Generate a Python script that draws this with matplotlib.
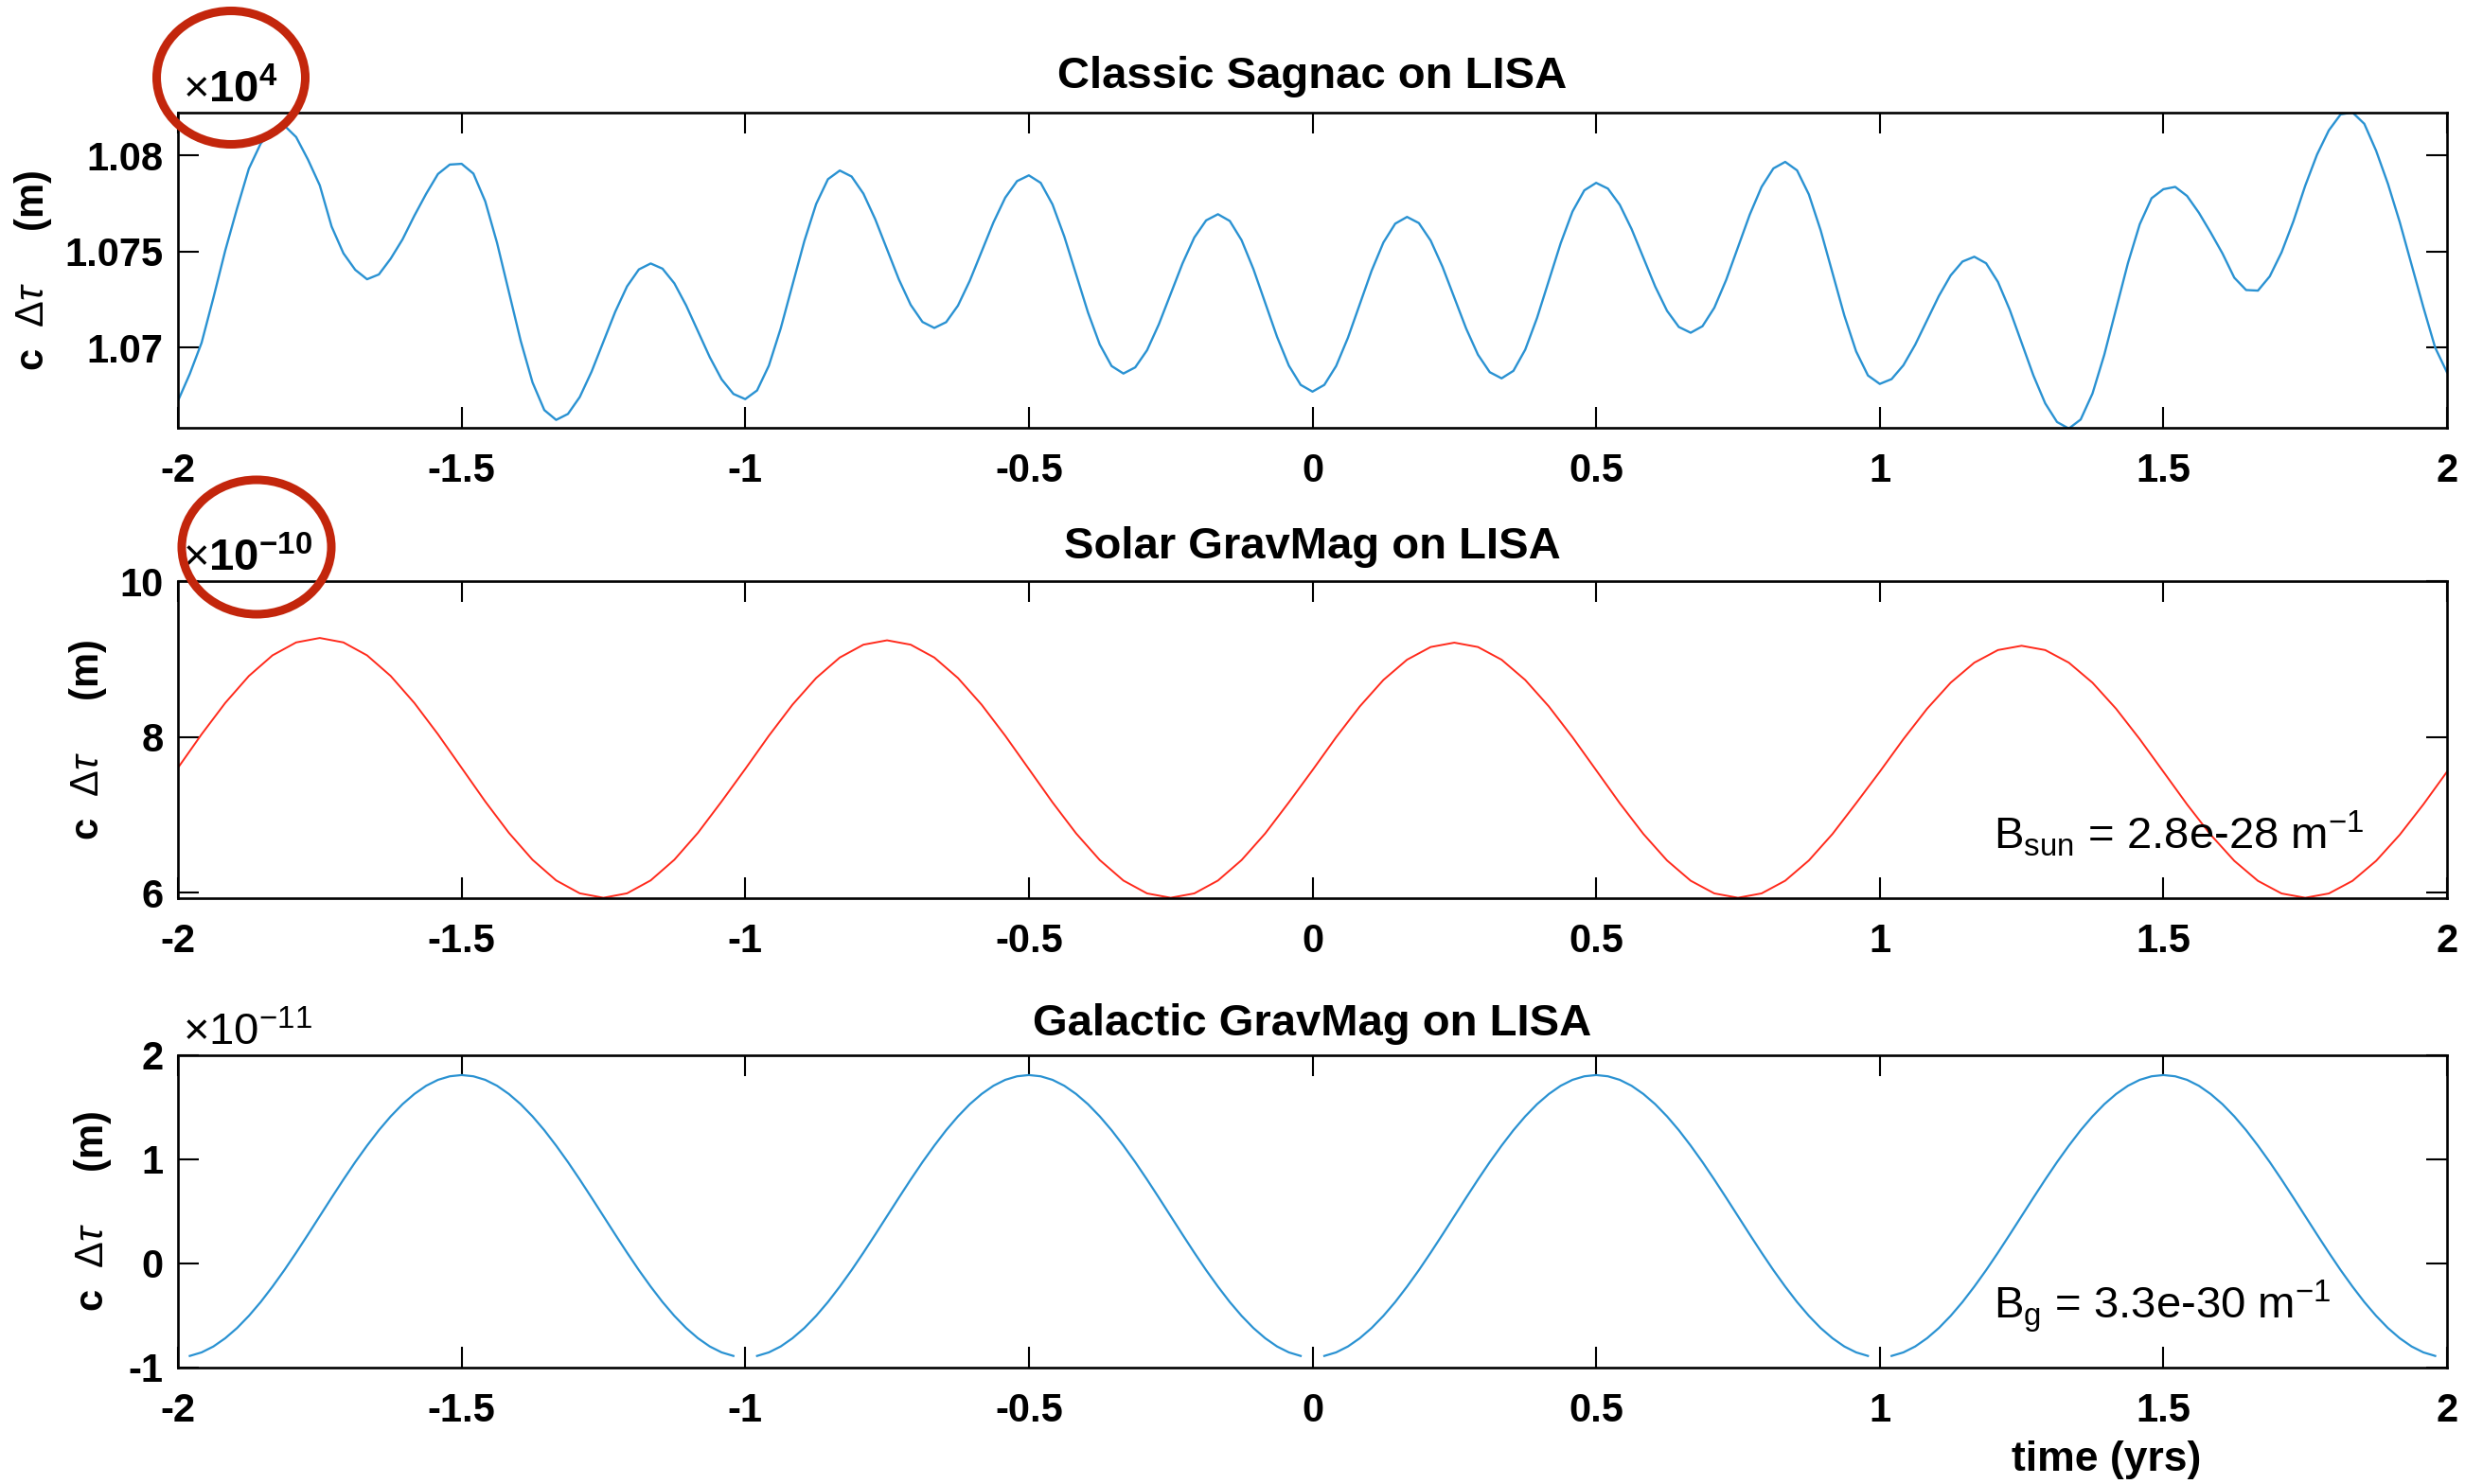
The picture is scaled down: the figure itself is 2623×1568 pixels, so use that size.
import numpy as np
import matplotlib
matplotlib.use("Agg")
import matplotlib.pyplot as plt
from matplotlib.patches import Ellipse

plt.rcParams['font.family'] = ['Liberation Sans', 'DejaVu Sans']
plt.rcParams['mathtext.fontset'] = 'custom'
plt.rcParams['mathtext.rm'] = 'Liberation Sans'
plt.rcParams['mathtext.it'] = 'Liberation Sans:italic'
plt.rcParams['mathtext.bf'] = 'Liberation Sans:bold'

nan = np.nan

# time axis (years), two sampling rates
t_fine = np.linspace(-2, 2, 193)    # 1/48 yr
t_coarse = np.linspace(-2, 2, 97)   # 1/24 yr

# classic Sagnac delay, units of 1e4 m
sagnac = [
    1.06724, 1.06864, 1.07026, 1.07260, 1.07505, 1.07724, 1.07931, 1.08061,
    1.08134, 1.08155, 1.08095, 1.07978, 1.07844, 1.07630, 1.07491, 1.07405,
    1.07356, 1.07381, 1.07463, 1.07563, 1.07686, 1.07800, 1.07903, 1.07952,
    1.07956, 1.07905, 1.07761, 1.07545, 1.07290, 1.07036, 1.06820, 1.06676,
    1.06625, 1.06656, 1.06744, 1.06876, 1.07032, 1.07187, 1.07319, 1.07407,
    1.07438, 1.07411, 1.07335, 1.07220, 1.07086, 1.06951, 1.06836, 1.06760,
    1.06733, 1.06778, 1.06907, 1.07100, 1.07327, 1.07554, 1.07747, 1.07876,
    1.07921, 1.07890, 1.07801, 1.07668, 1.07512, 1.07355, 1.07223, 1.07134,
    1.07103, 1.07133, 1.07219, 1.07348, 1.07500, 1.07651, 1.07780, 1.07866,
    1.07896, 1.07857, 1.07745, 1.07578, 1.07381, 1.07184, 1.07017, 1.06905,
    1.06866, 1.06898, 1.06987, 1.07122, 1.07280, 1.07438, 1.07573, 1.07662,
    1.07694, 1.07659, 1.07559, 1.07409, 1.07233, 1.07057, 1.06907, 1.06807,
    1.06772, 1.06807, 1.06905, 1.07052, 1.07226, 1.07400, 1.07547, 1.07645,
    1.07680, 1.07648, 1.07557, 1.07421, 1.07261, 1.07100, 1.06964, 1.06873,
    1.06841, 1.06880, 1.06990, 1.07155, 1.07349, 1.07543, 1.07708, 1.07818,
    1.07857, 1.07827, 1.07743, 1.07617, 1.07468, 1.07318, 1.07192, 1.07108,
    1.07078, 1.07112, 1.07208, 1.07352, 1.07522, 1.07692, 1.07836, 1.07932,
    1.07966, 1.07922, 1.07797, 1.07610, 1.07389, 1.07168, 1.06981, 1.06856,
    1.06812, 1.06837, 1.06909, 1.07016, 1.07143, 1.07269, 1.07376, 1.07448,
    1.07473, 1.07439, 1.07342, 1.07197, 1.07027, 1.06856, 1.06711, 1.06614,
    1.06580, 1.06627, 1.06762, 1.06964, 1.07202, 1.07440, 1.07642, 1.07777,
    1.07824, 1.07836, 1.07789, 1.07702, 1.07599, 1.07490, 1.07364, 1.07300,
    1.07297, 1.07371, 1.07496, 1.07657, 1.07842, 1.08004, 1.08130, 1.08213,
    1.08223, 1.08164, 1.08024, 1.07852, 1.07653, 1.07432, 1.07210, 1.07000,
    1.06872,
]

# solar gravitomagnetic delay, units of 1e-10 m
solar = [
    7.603, 8.034, 8.436, 8.782, 9.047, 9.213, 9.270, 9.213, 9.047, 8.782, 8.436, 8.034,
    7.603, 7.171, 6.769, 6.423, 6.158, 5.992, 5.935, 5.992, 6.158, 6.423, 6.769, 7.171,
    7.588, 8.015, 8.414, 8.756, 9.019, 9.184, 9.240, 9.184, 9.019, 8.756, 8.414, 8.015,
    7.588, 7.160, 6.761, 6.419, 6.156, 5.991, 5.935, 5.991, 6.156, 6.419, 6.761, 7.160,
    7.573, 7.996, 8.391, 8.731, 8.991, 9.154, 9.210, 9.154, 8.991, 8.731, 8.391, 7.996,
    7.573, 7.149, 6.754, 6.414, 6.154, 5.991, 5.935, 5.991, 6.154, 6.414, 6.754, 7.149,
    7.553, 7.971, 8.361, 8.696, 8.953, 9.115, 9.170, 9.115, 8.953, 8.696, 8.361, 7.971,
    7.553, 7.134, 6.744, 6.409, 6.152, 5.990, 5.935, 5.990, 6.152, 6.409, 6.744, 7.134,
    7.553,
]

# galactic gravitomagnetic delay, units of 1e-11 m (breaks at whole years)
galactic = [
    nan, -0.888, -0.854, -0.797, -0.718, -0.620, -0.503, -0.370, -0.222, -0.064, 0.104, 0.278,
    0.455, 0.632, 0.806, 0.974, 1.132, 1.280, 1.413, 1.530, 1.628, 1.707, 1.764, 1.798,
    1.810, 1.798, 1.764, 1.707, 1.628, 1.530, 1.413, 1.280, 1.132, 0.974, 0.806, 0.632,
    0.455, 0.278, 0.104, -0.064, -0.222, -0.370, -0.503, -0.620, -0.718, -0.797, -0.854, -0.888,
    nan, -0.888, -0.854, -0.797, -0.718, -0.620, -0.503, -0.370, -0.222, -0.064, 0.104, 0.278,
    0.455, 0.632, 0.806, 0.974, 1.132, 1.280, 1.413, 1.530, 1.628, 1.707, 1.764, 1.798,
    1.810, 1.798, 1.764, 1.707, 1.628, 1.530, 1.413, 1.280, 1.132, 0.974, 0.806, 0.632,
    0.455, 0.278, 0.104, -0.064, -0.222, -0.370, -0.503, -0.620, -0.718, -0.797, -0.854, -0.888,
    nan, -0.888, -0.854, -0.797, -0.718, -0.620, -0.503, -0.370, -0.222, -0.064, 0.104, 0.278,
    0.455, 0.632, 0.806, 0.974, 1.132, 1.280, 1.413, 1.530, 1.628, 1.707, 1.764, 1.798,
    1.810, 1.798, 1.764, 1.707, 1.628, 1.530, 1.413, 1.280, 1.132, 0.974, 0.806, 0.632,
    0.455, 0.278, 0.104, -0.064, -0.222, -0.370, -0.503, -0.620, -0.718, -0.797, -0.854, -0.888,
    nan, -0.888, -0.854, -0.797, -0.718, -0.620, -0.503, -0.370, -0.222, -0.064, 0.104, 0.278,
    0.455, 0.632, 0.806, 0.974, 1.132, 1.280, 1.413, 1.530, 1.628, 1.707, 1.764, 1.798,
    1.810, 1.798, 1.764, 1.707, 1.628, 1.530, 1.413, 1.280, 1.132, 0.974, 0.806, 0.632,
    0.455, 0.278, 0.104, -0.064, -0.222, -0.370, -0.503, -0.620, -0.718, -0.797, -0.854, -0.888,
    nan,
]

x_ticks = [-2, -1.5, -1, -0.5, 0, 0.5, 1, 1.5, 2]
x_ticklabels = ['-2', '-1.5', '-1', '-0.5', '0', '0.5', '1', '1.5', '2']

titles = ['Classic Sagnac on LISA', 'Solar GravMag on LISA', 'Galactic GravMag on LISA']
exponents = [r'$\times\mathbf{10^{4}}$', r'$\times\mathbf{10^{-10}}$', r'$\times10^{-11}$']
y_ticks = [[1.07, 1.075, 1.08], [6, 8, 10], [-1, 0, 1, 2]]
y_ticklabels = [['1.07', '1.075', '1.08'], ['6', '8', '10'], ['-1', '0', '1', '2']]
y_limits = [(1.06584, 1.08222), (5.93, 10), (-1, 2)]

BLUE = '#2a92d2'
RED = '#ff2a1c'
CIRCLE = '#c3260c'

W, H = 2623, 1568
fig = plt.figure(figsize=(W / 100, H / 100), dpi=100)


def axes_px(left, top, right, bottom):
    return fig.add_axes([left / W, 1 - bottom / H, (right - left) / W, (bottom - top) / H])


ax1 = axes_px(188, 119, 2585, 452)
ax2 = axes_px(188, 614, 2585, 949)
ax3 = axes_px(188, 1115, 2585, 1445)

ax1.plot(t_fine, sagnac, color=BLUE, lw=1.7, solid_joinstyle='round')
ax2.plot(t_coarse, solar, color=RED, lw=1.4, solid_joinstyle='round')
ax3.plot(t_fine, galactic, color=BLUE, lw=1.6, solid_joinstyle='round')

title_pads = [19, 17, 15]
label_x = [-0.0547, -0.0305, -0.0284]

for k, ax in enumerate([ax1, ax2, ax3]):
    ax.set_xlim(-2, 2)
    ax.set_ylim(*y_limits[k])
    ax.set_xticks(x_ticks)
    ax.set_xticklabels(x_ticklabels)
    ax.set_yticks(y_ticks[k])
    ax.set_yticklabels(y_ticklabels[k])
    ax.tick_params(direction='in', top=True, right=True, length=16, width=1.5,
                   labelsize=30, colors='black')
    ax.tick_params(axis='x', pad=19)
    ax.tick_params(axis='y', pad=11)
    for lab in ax.get_xticklabels() + ax.get_yticklabels():
        lab.set_fontweight('bold')
    for sp in ax.spines.values():
        sp.set_linewidth(1.9)
        sp.set_color('black')
    ax.set_title(titles[k], fontsize=34, fontweight='bold', pad=title_pads[k])
    ax.set_ylabel('c  $\\Delta\\tau$     (m)', fontsize=30, fontweight='bold')
    ax.yaxis.set_label_coords(label_x[k], 0.5)
    ax.text(0.002, 1.033, exponents[k], transform=ax.transAxes, fontsize=34,
            ha='left', va='baseline')

ax2.text(0.80, 0.155, r'B$_{\rm sun}$ = 2.8e-28 m$^{-1}$', transform=ax2.transAxes,
         fontsize=34, ha='left', va='baseline')
ax3.text(0.80, 0.158, r'B$_{\rm g}$ = 3.3e-30 m$^{-1}$', transform=ax3.transAxes,
         fontsize=34, ha='left', va='baseline')
ax3.text(0.85, -0.33, 'time (yrs)', transform=ax3.transAxes, fontsize=32,
         fontweight='bold', ha='center', va='baseline')

# red rings around the exponent labels
for cx, cy, ew, eh in [(244, 82, 157, 141), (271, 578, 158, 142)]:
    fig.add_artist(Ellipse((cx / W, 1 - cy / H), ew / W, eh / H, transform=fig.transFigure,
                           fill=False, edgecolor=CIRCLE, lw=6.5, zorder=10))

fig.savefig('out.png', dpi=100)
